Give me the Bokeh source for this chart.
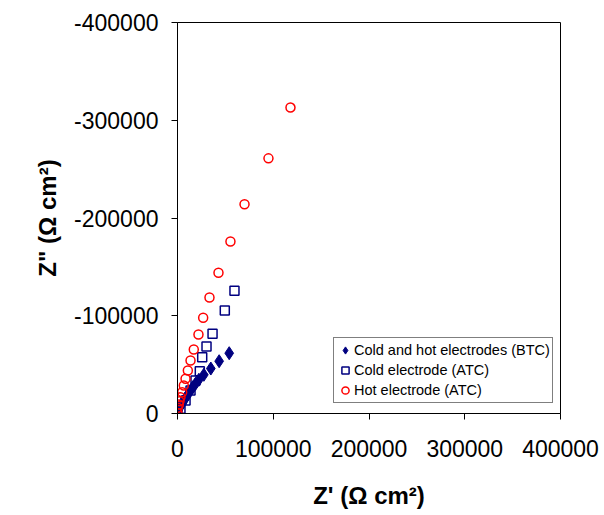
from bokeh.plotting import figure
from bokeh.models import Range1d, FixedTicker, Legend, LegendItem
from bokeh.embed import file_html
from bokeh.resources import INLINE

# Data (Z' and -Z'' in Ohm cm^2)
btc_x = [0, 300, 2400, 4900, 6600, 9100, 11200, 13600, 16000, 18800, 22300, 27500, 34800, 43500, 54000]
btc_y = [500, 3100, 6400, 9900, 13300, 16700, 20100, 23500, 26900, 30400, 34500, 39600, 46000, 53500, 61700]

cold_x = [0, 3100, 8400, 13600, 18800, 23300, 25800, 30300, 36600, 49400, 59500]
cold_y = [500, 4800, 13300, 23500, 33800, 43300, 57600, 68500, 81500, 105400, 125500]

hot_x = [0, 300, 1400, 2100, 3100, 4900, 6600, 8400, 10800, 13600, 17000, 21900, 26800, 33400, 42800, 55300, 70000, 95000, 118000]
hot_y = [500, 5800, 9200, 12600, 16700, 21800, 28600, 35500, 44000, 54200, 65500, 80800, 97900, 118700, 144000, 176000, 214000, 261000, 313000]

x_ticks = [0, 100000, 200000, 300000, 400000]
x_tick_labels = ["0", "100000", "200000", "300000", "400000"]
y_ticks = [0, 100000, 200000, 300000, 400000]
y_tick_labels = ["0", "-100000", "-200000", "-300000", "-400000"]

FONT = "Liberation Sans"

p = figure(width=604, height=515, output_backend="svg", toolbar_location=None,
           x_range=Range1d(0, 400000), y_range=Range1d(0, 400000),
           min_border_left=177, min_border_right=44, min_border_top=22, min_border_bottom=102)
p.background_fill_color = "white"
p.border_fill_color = "white"
p.outline_line_color = "black"
p.outline_line_width = 1
p.xgrid.visible = False
p.ygrid.visible = False

for ax, ticks, labels in ((p.xaxis, x_ticks, x_tick_labels), (p.yaxis, y_ticks, y_tick_labels)):
    ax.ticker = FixedTicker(ticks=ticks)
    ax.major_label_overrides = {t: l for t, l in zip(ticks, labels)}
    ax.minor_tick_line_color = None
    ax.major_tick_in = 0
    ax.major_tick_out = 6
    ax.major_tick_line_color = "black"
    ax.axis_line_color = "black"
    ax.major_label_text_font = FONT
    ax.major_label_text_font_size = "23px"
    ax.major_label_text_color = "black"
    ax.axis_label_text_font = FONT
    ax.axis_label_text_font_size = "24px"
    ax.axis_label_text_font_style = "bold"
    ax.axis_label_text_color = "black"

p.xaxis.axis_label = "Z' (Ω cm²)"
p.yaxis.axis_label = "Z\" (Ω cm²)"
p.xaxis.major_label_standoff = 20
p.yaxis.major_label_standoff = 13
p.xaxis.axis_label_standoff = 22
p.yaxis.axis_label_standoff = 10

r1 = p.scatter(btc_x, btc_y, marker="diamond", size=13, fill_color="#000080", line_color="#000080")
r2 = p.scatter(cold_x, cold_y, marker="square", size=9, fill_color=None, line_color="#000080", line_width=1.5)
r3 = p.scatter(hot_x, hot_y, marker="circle", size=9, fill_color=None, line_color="red", line_width=1.5)

legend = Legend(items=[
    LegendItem(label="Cold and hot electrodes (BTC)", renderers=[r1]),
    LegendItem(label="Cold electrode (ATC)", renderers=[r2]),
    LegendItem(label="Hot electrode (ATC)", renderers=[r3]),
], location=(156, 10))
legend.label_text_font = FONT
legend.label_text_font_size = "14.5px"
legend.label_text_color = "black"
legend.border_line_color = "black"
legend.border_line_width = 1
legend.glyph_width = 18
legend.glyph_height = 20
legend.label_standoff = 0
legend.spacing = 0
legend.padding = 2
legend.margin = 0
legend.label_height = 20
p.add_layout(legend, "center")

open("out.html", "w").write(file_html(p, INLINE))
